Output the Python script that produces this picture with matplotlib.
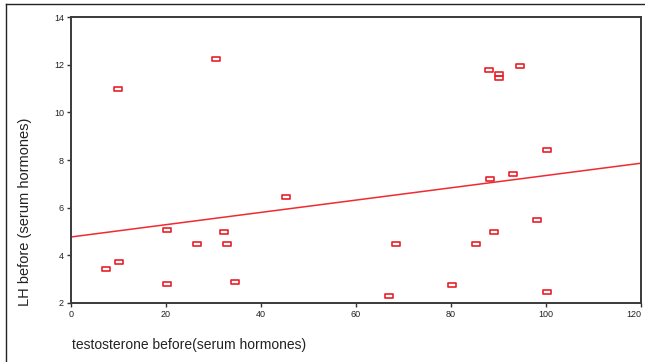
import numpy as np
import matplotlib.pyplot as plt
from matplotlib.path import Path
from matplotlib.lines import Line2D

plt.rcParams['font.family'] = ['Liberation Sans', 'DejaVu Sans']

# testosterone before vs LH before
testosterone = [7.4, 10.1, 9.9, 20.2, 20.2, 26.5, 30.5, 32.2, 32.8, 34.5, 45.3,
                66.9, 68.4, 80.2, 85.3, 88.0, 88.2, 89.1, 90.1, 90.1, 94.5, 93.1,
                98.1, 100.2, 100.2]
lh = [3.43, 3.72, 10.98, 5.06, 2.80, 4.48, 12.24, 4.98, 4.48, 2.88, 6.45,
      2.29, 4.48, 2.76, 4.48, 11.78, 7.2, 4.98, 11.61, 11.44, 11.95, 7.41,
      5.48, 8.42, 2.46]
# fitted line
fit_intercept = 4.77
fit_slope = 0.0258

xticks = [0, 20, 40, 60, 80, 100, 120]
yticks = [2, 4, 6, 8, 10, 12, 14]

fig = plt.figure(figsize=(6.45, 3.62), dpi=100)
ax = fig.add_axes([0.110, 0.163, 0.884, 0.790])

rect = Path([(-1, -0.6), (1, -0.6), (1, 0.6), (-1, 0.6), (-1, -0.6)],
            [Path.MOVETO, Path.LINETO, Path.LINETO, Path.LINETO, Path.CLOSEPOLY])
ax.plot(testosterone, lh, linestyle='none', marker=rect, markersize=5.5,
        markerfacecolor='none', markeredgecolor='#e8202a', markeredgewidth=1.2)

xl = np.array([0, 120])
ax.plot(xl, fit_intercept + fit_slope * xl, color='#f02a30', lw=1.1)

ax.set_xlim(0, 120)
ax.set_ylim(2, 14)
ax.set_xticks(xticks)
ax.set_yticks(yticks)
ax.tick_params(direction='out', length=3, width=1, labelsize=6.5, pad=2,
               colors='#333333', labelcolor='#222222')
ax.get_xticklabels()[-1].set_horizontalalignment('right')
for s in ax.spines.values():
    s.set_color('#3a3a3a')
    s.set_linewidth(1.4)

fig.text(0.039, 0.414, 'LH before (serum hormones)', rotation=90, ha='center',
         va='center', fontsize=10.5, color='#222222')
fig.text(0.111, 0.047, 'testosterone before(serum hormones)', ha='left',
         va='center', fontsize=10, color='#222222')

# outer frame (cropped)
fig.add_artist(Line2D([6 / 645, 1], [1 - 4 / 362, 1 - 4 / 362],
                      transform=fig.transFigure, color='#222222', lw=1))
fig.add_artist(Line2D([6 / 645, 6 / 645], [0, 1 - 4 / 362],
                      transform=fig.transFigure, color='#222222', lw=1))

fig.savefig('out.png', dpi=100)
